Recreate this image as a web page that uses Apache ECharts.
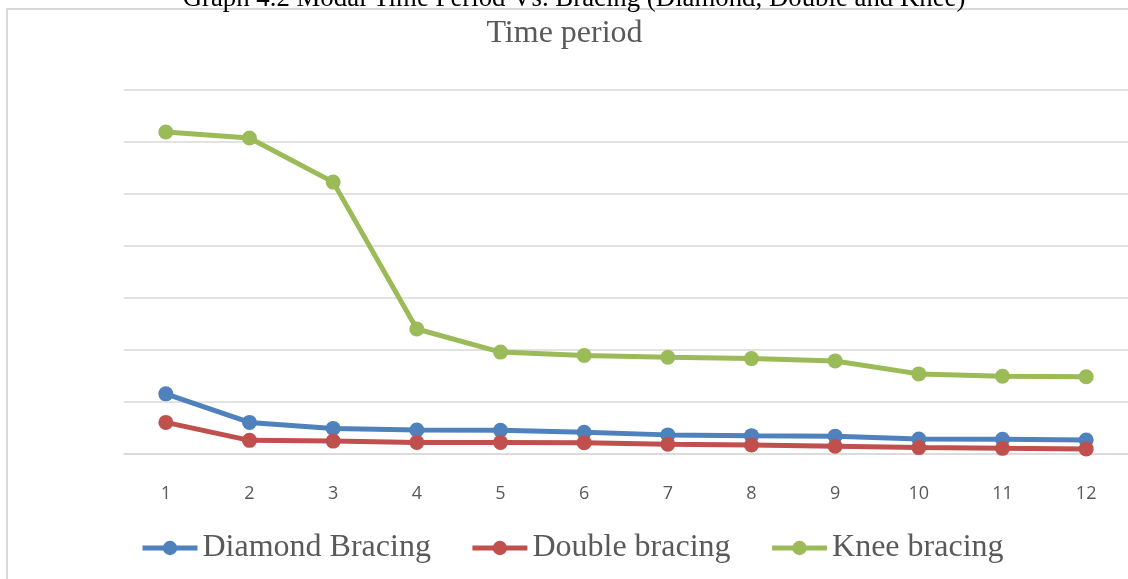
<!DOCTYPE html>
<html>
<head>
<meta charset="utf-8">
<style>
html,body{margin:0;padding:0;background:#fff;}
#chart{width:1128px;height:579px;}
</style>
<script src="https://cdn.jsdelivr.net/npm/echarts@6/dist/echarts.min.js"></script>
</head>
<body>
<div id="chart"></div>
<script>
const categories = ['1','2','3','4','5','6','7','8','9','10','11','12'];
const diamondBracing = [0.229, 0.119, 0.096, 0.090, 0.089, 0.081, 0.071, 0.068, 0.066, 0.055, 0.054, 0.051];
const doubleBracing  = [0.119, 0.050, 0.047, 0.042, 0.042, 0.041, 0.035, 0.032, 0.027, 0.022, 0.019, 0.017];
const kneeBracing    = [1.238, 1.215, 1.045, 0.479, 0.390, 0.377, 0.370, 0.365, 0.356, 0.306, 0.297, 0.295];
const seriesNames = ['Diamond Bracing', 'Double bracing', 'Knee bracing'];
const colors = ['#4f81bd', '#c0504d', '#9bbb59'];
const outerTitle = 'Graph 4.2 Modal Time Period Vs. Bracing (Diamond, Double and Knee)';
const chartTitle = 'Time period';

const chart = echarts.init(document.getElementById('chart'), null, {renderer: 'canvas'});
const serif = '"Liberation Serif", "Times New Roman", serif';
function mk(name, data, color) {
  return {
    name: name, type: 'line', data: data,
    symbol: 'circle', symbolSize: 15,
    lineStyle: {color: color, width: 5},
    itemStyle: {color: color},
    emphasis: {disabled: true},
    animation: false
  };
}
chart.setOption({
  animation: false,
  color: colors,
  graphic: [
    {type: 'rect', shape: {x: 7, y: 9, width: 1140, height: 600},
     style: {fill: 'none', stroke: '#d9d9d9', lineWidth: 2}, z: -1},
    {type: 'text', x: 574, y: 12,
     style: {text: outerTitle, font: '26.8px ' + serif, fill: '#000',
             textAlign: 'center', textVerticalAlign: 'bottom'}}
  ],
  title: {
    text: chartTitle, left: 559.5, top: 13, textAlign: 'center',
    textStyle: {fontFamily: serif, fontSize: 32, fontWeight: 'normal', color: '#595959'}
  },
  legend: {
    data: seriesNames, left: 135, top: 527,
    itemWidth: 55, itemHeight: 18, itemGap: 39,
    lineStyle: {width: 5},
    textStyle: {fontFamily: serif, fontSize: 32, color: '#595959'}
  },
  grid: {left: 124, top: 90, width: 1010, bottom: 125.7, containLabel: false},
  xAxis: {
    type: 'category', data: categories, boundaryGap: true,
    axisLine: {show: true, lineStyle: {color: '#d9d9d9', width: 1.5}},
    axisTick: {show: false},
    axisLabel: {margin: 32, fontFamily: '"Open Sans", sans-serif', fontSize: 18, color: '#595959'}
  },
  yAxis: {
    type: 'value', min: 0, max: 1.4, interval: 0.2,
    axisLine: {show: false}, axisTick: {show: false}, axisLabel: {show: false},
    splitLine: {lineStyle: {color: '#d9d9d9', width: 1.5}}
  },
  series: [
    mk(seriesNames[0], diamondBracing, colors[0]),
    mk(seriesNames[1], doubleBracing, colors[1]),
    mk(seriesNames[2], kneeBracing, colors[2])
  ]
});
</script>
</body>
</html>
